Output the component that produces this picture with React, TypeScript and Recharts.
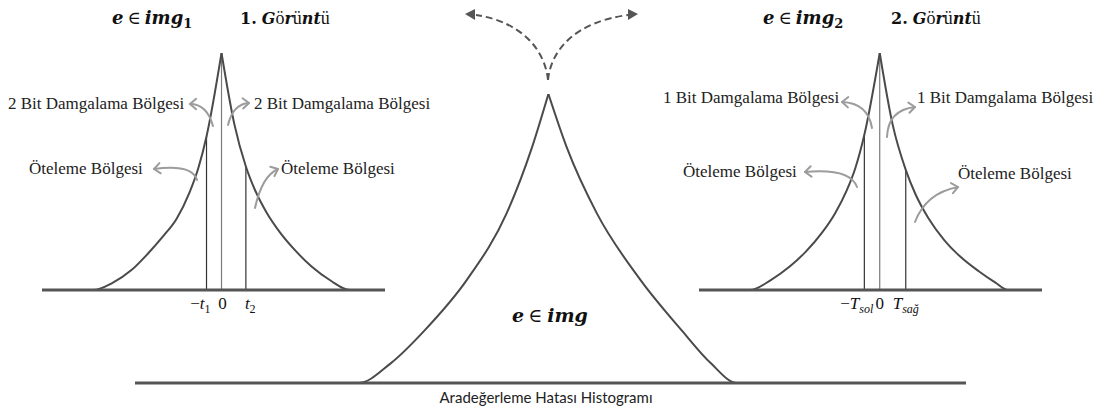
import React from 'react';
import { LineChart, Line, XAxis, YAxis, ReferenceLine } from 'recharts';

// e = interpolation error, f = relative frequency (peak = 100)
// 1. image histogram, split at the peak so the cusp stays sharp
const img1LeftE = [-11.5, -10, -8.5, -7, -5.8, -4.5, -3.5, -2.5, -1.8, -1.17, 0];
const img1LeftF = [0, 0, 3, 8.5, 15, 23, 30.1, 41.1, 51.6, 64.8, 100];
const img1RightE = [0, 1.0, 1.9, 2.6, 3.5, 4.6, 5.8, 7, 8.5, 10, 11.5];
const img1RightF = [100, 70, 52.1, 42.3, 32.8, 24, 16.4, 10, 4, 0, 0];
const img1Thresholds = [-1.17, 0, 1.9];
const img1ThresholdTops = [64.8, 100, 52.1];
const img1TickMain = ['−t', '0', 't'];
const img1TickSub = ['1', '', '2'];

// 2. image histogram
const img2LeftE = [-11.5, -10.1, -8.5, -7, -5.8, -4.5, -3.5, -2.6, -1.9, -1.2, 0];
const img2LeftF = [0, 0, 4.2, 10, 16, 24.2, 32.2, 41.7, 51.5, 65.5, 100];
const img2RightE = [0, 1.0, 2.03, 2.8, 3.8, 5.0, 6.3, 7.7, 9.0, 10.0, 11.5];
const img2RightF = [100, 70, 50.7, 40.3, 30.3, 21.3, 14, 8, 3.2, 0, 0];
const img2Thresholds = [-1.2, 0, 2.03];
const img2ThresholdTops = [65.5, 100, 50.7];
const img2TickMain = ['−T', '0', 'T'];
const img2TickSub = ['sol', '', 'sağ'];

// original image histogram
const imgLeftE = [-12, -10, -8.3, -6.5, -4.3, -2.2, -0.85, 0];
const imgLeftF = [0, 0, 6.8, 18.3, 35.6, 58.7, 81.8, 100];
const imgRightE = [0, 0.95, 2.55, 4.85, 7.0, 8.55, 9.92, 12];
const imgRightF = [100, 81.8, 58.7, 35.6, 18.3, 6.8, 0, 0];

const toPoints = (e: number[], f: number[]) => e.map((v, i) => ({ e: v, f: f[i] }));

const CURVE = '#4a4a4a';
const ARROW = '#9c9c9c';
const SERIF = '"Liberation Serif", serif';
const MATH = '"DejaVu Serif", serif';

type TickStyle = { anchor: 'start' | 'middle' | 'end'; dx: number };

const makeTick = (main: string[], sub: string[], styles: TickStyle[]) => (props: any) => {
  const { x, y, index } = props;
  const s = styles[index] || { anchor: 'middle', dx: 0 };
  const label = main[index] || '';
  const minus = label.startsWith('−');
  const body = minus ? label.slice(1) : label;
  const italic = body !== '0';
  return (
    <text x={x + s.dx} y={y + 11} textAnchor={s.anchor} fontFamily={SERIF} fontSize={17} fill="#111">
      {minus && <tspan>−</tspan>}
      <tspan fontStyle={italic ? 'italic' : 'normal'}>{body}</tspan>
      {sub[index] ? (
        <tspan dy={4} fontSize={12} fontStyle={/\d/.test(sub[index]) ? 'normal' : 'italic'}>
          {sub[index]}
        </tspan>
      ) : null}
    </text>
  );
};

interface PanelProps {
  left: number;
  top: number;
  width: number;
  plotHeight: number;
  domain: [number, number];
  halves: { e: number; f: number }[][];
  thresholds?: number[];
  thresholdTops?: number[];
  tick?: any;
}

function HistogramPanel({ left, top, width, plotHeight, domain, halves, thresholds, thresholdTops, tick }: PanelProps) {
  const axisHeight = 34;
  return (
    <div style={{ position: 'absolute', left, top }}>
      <LineChart width={width} height={4 + plotHeight + axisHeight} margin={{ top: 4, right: 0, bottom: 0, left: 0 }}>
        <XAxis
          type="number"
          dataKey="e"
          domain={domain}
          allowDataOverflow
          ticks={thresholds}
          interval={0}
          tickLine={false}
          tick={tick || false}
          axisLine={{ stroke: '#555', strokeWidth: 3 }}
          height={axisHeight}
        />
        <YAxis type="number" domain={[0, 100]} allowDataOverflow hide width={0} />
        {(thresholds || []).map((t, i) => (
          <ReferenceLine
            key={`thr-${i}`}
            segment={[{ x: t, y: 0 }, { x: t, y: thresholdTops ? thresholdTops[i] : 100 }]}
            stroke={t === 0 ? '#7a7a7a' : '#333'}
            strokeWidth={1.2}
          />
        ))}
        {halves.map((d, i) => (
          <Line
            key={`half-${i}`}
            data={d}
            dataKey="f"
            type="monotone"
            stroke={CURVE}
            strokeWidth={2}
            dot={false}
            activeDot={false}
            isAnimationActive={false}
          />
        ))}
      </LineChart>
    </div>
  );
}

// curved annotation arrow: [x0, y0, cx, cy, x1, y1]
const arrows: number[][] = [
  [213, 126, 207, 104, 190, 104],
  [228, 125, 233, 104, 249, 103],
  [197, 180, 192, 164, 154, 169],
  [255, 208, 262, 176, 278, 169],
  [872, 128, 868, 103, 842, 102],
  [887, 137, 888, 110, 915, 107],
  [857, 187, 850, 168, 805, 172],
  [915, 222, 926, 193, 958, 187],
];

const chevron = (cx: number, cy: number, x1: number, y1: number, len = 8, spread = 0.7) => {
  const a = Math.atan2(y1 - cy, x1 - cx);
  const p1 = [x1 - len * Math.cos(a - spread), y1 - len * Math.sin(a - spread)];
  const p2 = [x1 - len * Math.cos(a + spread), y1 - len * Math.sin(a + spread)];
  return `M${p1[0]},${p1[1]} L${x1},${y1} L${p2[0]},${p2[1]}`;
};

function Title({ x, y, n }: { x: number; y: number; n: string }) {
  return (
    <>
      <text x={x} y={y} fontFamily={MATH} fontSize={18} fill="#111">
        <tspan fontWeight="bold" fontStyle="italic">e</tspan>
        <tspan dx={4}>∈</tspan>
        <tspan dx={4} fontWeight="bold" fontStyle="italic">img</tspan>
        <tspan dy={4} fontSize={13} fontWeight="bold">{n}</tspan>
      </text>
      <text x={x + 128} y={y} fontFamily={MATH} fontSize={16} fill="#111">
        <tspan fontWeight="bold">{n}.</tspan>
        <tspan dx={5} fontWeight="bold" fontStyle="italic">G</tspan>
        <tspan fontFamily={SERIF} fontSize={18}>ö</tspan>
        <tspan fontWeight="bold" fontStyle="italic">r</tspan>
        <tspan fontFamily={SERIF} fontSize={18}>ü</tspan>
        <tspan fontWeight="bold" fontStyle="italic">nt</tspan>
        <tspan fontFamily={SERIF} fontSize={18}>ü</tspan>
      </text>
    </>
  );
}

export default function App() {
  const labelStyle = { fontFamily: SERIF, fontSize: 17, fill: '#222' } as const;
  return (
    <div style={{ position: 'relative', width: 1101, height: 410, background: '#fff', overflow: 'hidden' }}>
      <style>{'body{margin:0}'}</style>
      <HistogramPanel
        left={42}
        top={49}
        width={343}
        plotHeight={237}
        domain={[-14, 12.75]}
        halves={[toPoints(img1LeftE, img1LeftF), toPoints(img1RightE, img1RightF)]}
        thresholds={img1Thresholds}
        thresholdTops={img1ThresholdTops}
        tick={makeTick(img1TickMain, img1TickSub, [
          { anchor: 'end', dx: 4 },
          { anchor: 'middle', dx: 1 },
          { anchor: 'start', dx: -1 },
        ])}
      />
      <HistogramPanel
        left={699}
        top={49}
        width={343}
        plotHeight={237}
        domain={[-14.1, 12.66]}
        halves={[toPoints(img2LeftE, img2LeftF), toPoints(img2RightE, img2RightF)]}
        thresholds={img2Thresholds}
        thresholdTops={img2ThresholdTops}
        tick={makeTick(img2TickMain, img2TickSub, [
          { anchor: 'end', dx: 9 },
          { anchor: 'middle', dx: 0 },
          { anchor: 'start', dx: -13 },
        ])}
      />
      <HistogramPanel
        left={135}
        top={90}
        width={831}
        plotHeight={289}
        domain={[-21.75, 21.97]}
        halves={[toPoints(imgLeftE, imgLeftF), toPoints(imgRightE, imgRightF)]}
      />

      <svg width={1101} height={410} style={{ position: 'absolute', left: 0, top: 0, pointerEvents: 'none' }}>
        {arrows.map(([x0, y0, cx, cy, x1, y1], i) => (
          <g key={i} stroke={ARROW} strokeWidth={2} fill="none" strokeLinecap="round" strokeLinejoin="round">
            <path d={`M${x0},${y0} Q${cx},${cy} ${x1},${y1}`} />
            <path d={chevron(cx, cy, x1, y1)} />
          </g>
        ))}

        {/* dashed split arrows above the original histogram */}
        <g stroke="#555" strokeWidth={2} fill="none" strokeDasharray="7 4">
          <path d="M548,80 C545,50 522,22 476,15" />
          <path d="M548,80 C551,50 575,22 628,15" />
        </g>
        <path d="M465,14 L475,9 L475,20 Z" fill="#555" />
        <path d="M638,14 L628,9 L628,20 Z" fill="#555" />

        <Title x={112} y={24} n="1" />
        <Title x={763} y={24} n="2" />

        <text x={8} y={109} {...labelStyle}>2 Bit Damgalama Bölgesi</text>
        <text x={254} y={109} {...labelStyle}>2 Bit Damgalama Bölgesi</text>
        <text x={29} y={174} {...labelStyle}>Öteleme Bölgesi</text>
        <text x={281} y={174} {...labelStyle}>Öteleme Bölgesi</text>

        <text x={663} y={103} {...labelStyle}>1 Bit Damgalama Bölgesi</text>
        <text x={917} y={103} {...labelStyle}>1 Bit Damgalama Bölgesi</text>
        <text x={683} y={177} {...labelStyle}>Öteleme Bölgesi</text>
        <text x={958} y={179} {...labelStyle}>Öteleme Bölgesi</text>

        <text x={550} y={322} textAnchor="middle" fontFamily={MATH} fontSize={19} fill="#111">
          <tspan fontWeight="bold" fontStyle="italic">e</tspan>
          <tspan dx={4}>∈</tspan>
          <tspan dx={5} fontWeight="bold" fontStyle="italic">img</tspan>
        </text>

        <text x={546} y={403} textAnchor="middle" fontFamily="Lato, sans-serif" fontSize={15} fill="#222">
          Aradeğerleme Hatası Histogramı
        </text>
      </svg>
    </div>
  );
}
